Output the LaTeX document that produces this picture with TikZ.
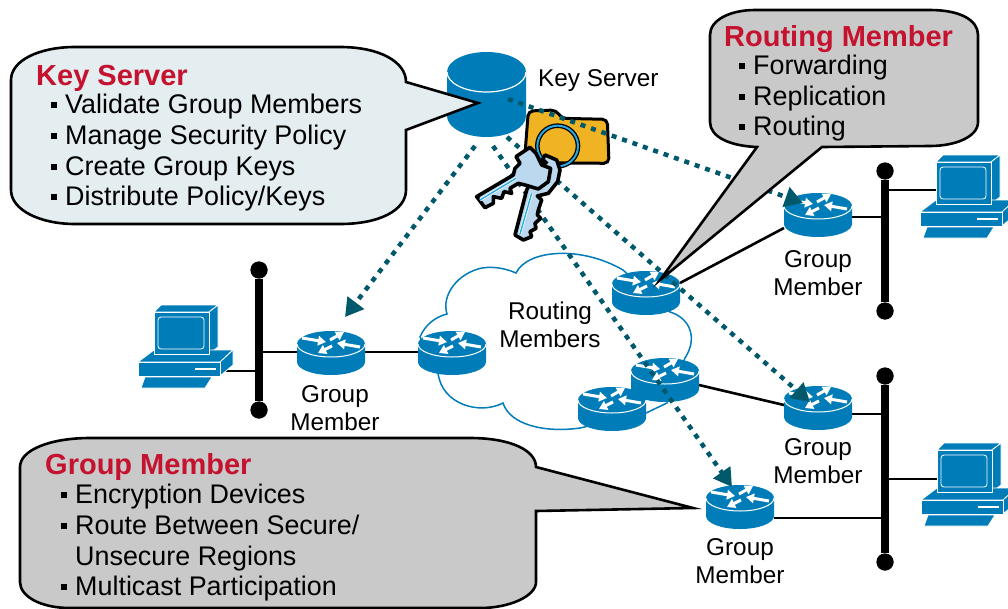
\documentclass[tikz,border=0pt]{standalone}
\usepackage{fontspec}
\setmainfont{Liberation Sans}
\usetikzlibrary{arrows.meta}
\definecolor{netblue}{HTML}{007DB8}
\definecolor{teal}{HTML}{00586B}
\definecolor{headred}{HTML}{C4122F}
\definecolor{calloutgrey}{HTML}{C9C9C9}
\definecolor{calloutpale}{HTML}{E4EDF0}
\definecolor{foldergold}{HTML}{F0B323}
\definecolor{keypale}{HTML}{BCD8EE}
\definecolor{keyblue}{HTML}{29A9E0}
\newcommand{\bul}{\leavevmode\llap{\rule[5pt]{6pt}{6pt}\hspace{8pt}}}
\tikzset{
  x=1pt,y=-1pt,
  routerbox/.style={minimum width=68pt,minimum height=44pt,inner sep=0pt,outer sep=0pt},
  link/.style={draw=black,line width=2.6pt},
  buswire/.style={draw=black,line width=7.5pt},
  busend/.style={circle,fill=black,minimum size=17pt,inner sep=0pt},
  secure/.style={draw=teal,line width=4.5pt,dash pattern=on 5pt off 6pt,-{Triangle[length=18pt,width=20pt]}},
  callout/.style={draw=black,line width=2.6pt,line join=miter},
  label/.style={font=\fontsize{24.3}{28}\selectfont,inner sep=0pt,align=center,text=black},
  heading/.style={font=\fontsize{29}{32}\selectfont\bfseries,text=headred,inner sep=0pt,anchor=base west},
  itemtext/.style={font=\fontsize{26.9}{30}\selectfont,text=black,inner sep=0pt,anchor=base west},
  keyshape/.style={draw=black,fill=keypale,line width=3.6pt,line join=round},
  routerunit/.pic={
    \fill[netblue] (-34,-8) -- (-34,10) .. controls (-34,17.2) and (-18.8,23) .. (0,23)
      .. controls (18.8,23) and (34,17.2) .. (34,10) -- (34,-8)
      .. controls (34,-15.2) and (18.8,-21) .. (0,-21)
      .. controls (-18.8,-21) and (-34,-15.2) .. (-34,-8) -- cycle;
    \draw[white,line width=1pt] (-34,-8) .. controls (-34,-0.8) and (-18.8,5) .. (0,5)
      .. controls (18.8,5) and (34,-0.8) .. (34,-8);
    \begin{scope}[white,line width=3pt,-{Triangle[length=8pt,width=9.5pt]}]
      \draw (-29,-14) -- (-5,-10);
      \draw (-1,-12) -- (13,-20);
      \draw (29,-5) -- (6,-9);
      \draw (1,-6) -- (-13,1);
    \end{scope}
  },
  pcunit/.pic={
    \begin{scope}[draw=white,fill=netblue,line width=0.8pt,line join=round]
      \filldraw (0,7) -- (7,0) -- (64,0) -- (55,7) -- cycle;
      \filldraw (55,7) -- (64,0) -- (64,42) -- (55,49) -- cycle;
      \filldraw (-16,57) -- (0,45) -- (79,45) -- (66,57) -- cycle;
      \filldraw (66,57) -- (79,45) -- (79,60) -- (66,71) -- cycle;
      \filldraw (-16,57) rectangle (66,71);
      \filldraw (0,7) rectangle (55,49);
      \draw[rounded corners=3pt] (4,12) rectangle (50,44);
      \draw[line width=1.4pt] (41,64) -- (62,64);
      \filldraw (-9,72) -- (58,72) -- (51,83) -- (-13,83) -- cycle;
    \end{scope}
  }
}
\begin{document}
\begin{tikzpicture}
\useasboundingbox (0,0) rectangle (1008,608);
\fill[white] (0,0) rectangle (1008,608);

% named places
\node[routerbox] (r1) at (331,352) {};
\node[routerbox] (r2) at (452,352) {};
\node[routerbox] (r3) at (646,292) {};
\node[routerbox] (r4) at (665,379) {};
\node[routerbox] (r5) at (612,408) {};
\node[routerbox] (r6) at (818,214) {};
\node[routerbox] (r7) at (818,407) {};
\node[routerbox] (r8) at (740,506) {};
\node[busend] (b1t) at (259,270) {};
\node[busend] (b1b) at (259,410) {};
\node[busend] (b2t) at (885,171) {};
\node[busend] (b2b) at (885,311) {};
\node[busend] (b3t) at (885,376) {};
\node[busend] (b3b) at (885,562) {};
\coordinate (pc1port) at (224,371);
\coordinate (pc2port) at (937,190);
\coordinate (pc3port) at (937,479);
\coordinate (r6port) at (851,217);
\coordinate (r7port) at (851,414);
\coordinate (r8port) at (774,518);
\coordinate (ksA) at (508,99);
\coordinate (ksB) at (475,146);
\coordinate (ksC) at (493,146);
\coordinate (ksD) at (507,137);
\coordinate (tipA) at (803,203);
\coordinate (tipB) at (345,317);
\coordinate (tipC) at (732,487);
\coordinate (tipD) at (810,402);

% cloud
\filldraw[draw=netblue,fill=white,line width=1.5pt]
  (420,337) .. controls (425,325) and (435,317) .. (447,314)
  .. controls (441,295) and (458,273) .. (482,268)
  .. controls (495,266) and (507,269) .. (516,273)
  .. controls (527,250) and (580,245) .. (623,270)
  -- (670,312)
  .. controls (690,318) and (698,338) .. (685,358)
  -- (667,403) -- (646,413) -- (580,428)
  .. controls (545,433) and (510,425) .. (503,403)
  .. controls (480,415) and (442,405) .. (438,373)
  -- cycle;
\node[label] (cloudtext) at (550,324.5) {Routing\\Members};

% solid connectors
\draw[buswire] (b1t) -- (b1b);
\draw[buswire] (b2t) -- (b2b);
\draw[buswire] (b3t) -- (b3b);
\draw[link] (pc1port) -- (pc1port -| b1t);
\draw[link] (b1t |- r1) -- (r1);
\draw[link] (r1) -- (r2);
\draw[link] ([yshift=9pt]r3.east) -- ([yshift=-14pt]r6.west);
\draw[link] (r6port) -- (r6port -| b2t);
\draw[link] (pc2port) -- (pc2port -| b2t);
\draw[link] ([yshift=-6pt]r4.east) -- ([yshift=2pt]r7.west);
\draw[link] (r7port) -- (r7port -| b3t);
\draw[link] (r8port) -- (r8port -| b3t);
\draw[link] (pc3port) -- (pc3port -| b3t);

% routers and hosts
\pic at (r1) {routerunit};
\pic at (r2) {routerunit};
\pic at (r3) {routerunit};
\pic at (r4) {routerunit};
\pic at (r5) {routerunit};
\pic at (r6) {routerunit};
\pic at (r7) {routerunit};
\pic at (r8) {routerunit};
\pic at (154,305) {pcunit};
\pic at (936,155) {pcunit};
\pic at (937,443) {pcunit};

% key server drum
\node[minimum width=79pt,minimum height=85pt,inner sep=0pt] (ks) at (486.5,94.5) {};
\fill[netblue] (447,72) -- (447,116) .. controls (447,127.6) and (464.7,137) .. (486.5,137)
  .. controls (508.3,137) and (526,127.6) .. (526,116) -- (526,72)
  .. controls (526,61) and (508.3,52) .. (486.5,52)
  .. controls (464.7,52) and (447,61) .. (447,72) -- cycle;
\draw[white,line width=1.2pt] (447,72) .. controls (447,83) and (464.7,92) .. (486.5,92)
  .. controls (508.3,92) and (526,83) .. (526,72);
\node[label,anchor=base west] (kslabel) at (538,86) {Key Server};

% folder
\begin{scope}[shift={(430,40)},x=0.3333pt,y=-0.3333pt]
  \filldraw[draw=black,fill=foldergold,line width=3pt,rounded corners=5pt]
    (295,213) -- (378,210) -- (395,235) -- (532,238) -- (537,370) -- (283,368) -- cycle;
\end{scope}

% secure flows
\draw[secure] (ksA) -- (tipA);
\draw[secure] (ksB) -- (tipB);
\draw[secure] (ksC) -- (tipC);
\draw[secure] (ksD) -- (tipD);

% keys and ring
\begin{scope}[shift={(430,40)},x=0.3333pt,y=-0.3333pt]
  \draw[black,line width=4.6pt] (383,318) circle[radius=61];
  \draw[keyblue,line width=2pt] (383,318) circle[radius=61];
  \filldraw[keyshape]
    (345,345) -- (380,360) -- (390,390) -- (383,425) -- (355,460) -- (322,468)
    -- (335,480) -- (325,510) -- (322,525) -- (332,535) -- (315,550) -- (318,565) -- (300,575)
    -- (305,590) -- (280,600) -- (255,585) -- (290,450) -- cycle;
  \draw[white,line width=2.8pt] (270,582) -- (305,460);
  \draw[keyblue,line width=1.4pt] (270,582) -- (305,460);
  \filldraw[keyshape]
    (258,350) -- (300,322) -- (318,340) -- (335,375) -- (362,385) -- (355,425) -- (325,447)
    -- (285,435) -- (265,430) -- (240,445) -- (245,460) -- (222,455) -- (215,475) -- (190,470)
    -- (190,490) -- (165,503) -- (140,470) -- (250,405) -- (255,385) -- (270,370) -- cycle;
  \draw[white,line width=2.8pt] (150,480) -- (258,415);
  \draw[keyblue,line width=1.4pt] (150,480) -- (258,415);
  \draw[black,line width=2.6pt] (345,368) circle[radius=5];
\end{scope}

% group member labels
\node[label] (gm1) at (335,408.5) {Group\\Member};
\node[label] (gm2) at (818,273.5) {Group\\Member};
\node[label] (gm3) at (818,461.5) {Group\\Member};
\node[label] (gm4) at (740,561.5) {Group\\Member};

% bus ends on top
\node[busend] at (b1t) {};
\node[busend] at (b1b) {};
\node[busend] at (b2t) {};
\node[busend] at (b2b) {};
\node[busend] at (b3t) {};
\node[busend] at (b3b) {};

% callouts
\filldraw[callout,fill=calloutpale]
  (11,80) .. controls (11,60) and (40,47) .. (75,47) -- (340,47)
  .. controls (380,47) and (406,62) .. (406,82) -- (478,103) -- (406,130) -- (406,190)
  .. controls (406,210) and (380,224) .. (340,224) -- (75,224)
  .. controls (40,224) and (11,210) .. (11,190) -- cycle;
\node[heading] (h1) at (36,85) {Key Server};
\node[itemtext] (k1) at (65,113) {\bul Validate Group Members};
\node[itemtext] (k2) at (65,144) {\bul Manage Security Policy};
\node[itemtext] (k3) at (65,175) {\bul Create Group Keys};
\node[itemtext] (k4) at (65,205) {\bul Distribute Policy/Keys};

\filldraw[callout,fill=calloutgrey]
  (710,35) .. controls (710,20) and (730,10) .. (755,10) -- (930,10)
  .. controls (960,10) and (978,20) .. (978,35) -- (978,122)
  .. controls (978,137) and (955,146) .. (930,146) -- (822,147) -- (660,280) -- (757,147)
  .. controls (730,146) and (710,137) .. (710,122) -- cycle;
\node[heading] (h2) at (724,46) {Routing Member};
\node[itemtext] (f1) at (753,74) {\bul Forwarding};
\node[itemtext] (f2) at (753,105) {\bul Replication};
\node[itemtext] (f3) at (753,135) {\bul Routing};

\filldraw[callout,fill=calloutgrey]
  (20,467) .. controls (20,450) and (50,438) .. (90,438) -- (470,438)
  .. controls (510,438) and (536,450) .. (536,467) -- (693,508) -- (536,511) -- (536,582)
  .. controls (536,596) and (510,608) .. (480,608) -- (70,608)
  .. controls (40,608) and (20,596) .. (20,582) -- cycle;
\node[heading] (h3) at (45,474) {Group Member};
\node[itemtext] (g1) at (75,503) {\bul Encryption Devices};
\node[itemtext] (g2) at (75,534) {\bul Route Between Secure/};
\node[itemtext] (g3) at (75,565) {Unsecure Regions};
\node[itemtext] (g4) at (75,595) {\bul Multicast Participation};
\end{tikzpicture}
\end{document}
